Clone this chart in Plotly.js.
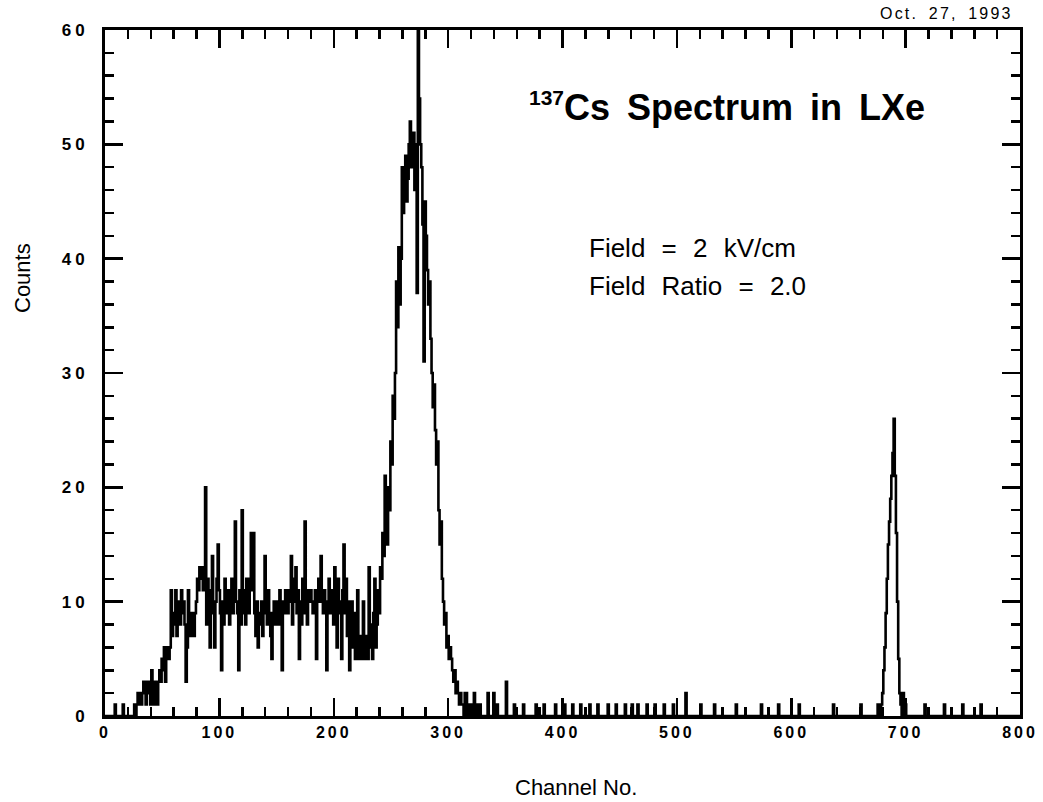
<!DOCTYPE html>
<html>
<head>
<meta charset="utf-8">
<script src="https://cdn.plot.ly/plotly-3.0.1.min.js"></script>
<style>
  html, body { margin: 0; padding: 0; background: #fff; }
  #chart { width: 1043px; height: 802px; }
  .xtick text { letter-spacing: 3px; }
  .ytick text { letter-spacing: 4px; }
  .annotation[data-index="0"] .annotation-text { word-spacing: 7px; }
  .annotation[data-index="1"] .annotation-text,
  .annotation[data-index="2"] .annotation-text { word-spacing: 9px; }
  .annotation[data-index="3"] .annotation-text { letter-spacing: 2.2px; word-spacing: 4px; }
</style>
</head>
<body>
<div id="chart"></div>
<script>
// Counts per channel, channels 0-329 (Compton region and photopeak)
const denseStart = 0;
const denseCounts = [
  0,0,0,0,0,0,0,0,0,1,
  0,0,0,0,0,0,1,0,0,0,
  0,0,0,0,0,0,1,0,1,2,
  1,2,1,2,3,2,1,3,2,3,
  1,4,2,1,3,2,1,3,4,3,
  5,4,6,3,5,6,5,6,11,7,
  9,8,11,7,10,9,8,11,9,10,
  8,3,6,11,8,7,9,8,7,9,
  10,12,11,13,12,13,11,12,20,8,
  12,10,6,11,14,9,6,10,12,15,
  11,9,4,10,8,12,10,9,11,8,
  10,12,9,11,17,10,9,4,11,8,
  18,9,11,8,12,10,9,12,16,11,
  16,9,7,10,6,9,8,10,7,9,
  14,10,8,11,9,7,5,9,10,8,
  10,9,8,11,9,4,10,9,11,10,
  9,11,10,14,8,12,10,13,9,11,
  5,10,8,12,9,17,10,8,11,10,
  11,10,9,10,11,5,10,12,10,14,
  10,9,11,10,4,10,12,9,11,10,
  8,13,10,6,12,9,10,5,11,15,
  9,12,7,10,4,8,10,6,9,5,
  6,11,5,7,6,5,10,6,5,7,
  5,13,6,8,5,9,12,6,8,11,
  9,13,12,16,14,21,17,15,20,18,
  24,22,28,26,30,38,34,41,36,40,
  48,44,46,49,45,47,50,52,48,49,
  51,46,50,37,60,54,50,48,43,31,
  45,42,39,36,38,33,30,27,29,25,
  22,24,18,15,17,12,10,8,9,6,
  7,5,6,5,4,3,4,2,3,2,
  1,2,1,1,0,2,2,0,1,0,
  1,0,0,2,0,1,0,0,1,0
];

// Isolated counts above the photopeak
const sparseChannels = [335,340,343,351,358,366,377,384,394,402,409,416,424,431,440,447,455,461,466,474,481,489,497,508,521,533,552,574,589,607,637,661,676,717,734,750,766];
const sparseCounts   = [2,2,1,3,1,1,1,1,1,1,1,1,1,1,1,1,1,1,1,1,1,1,1,2,1,1,1,1,1,1,1,1,1,1,1,1,1];

// Pulser peak
const pulserChannels = [679,680,681,682,683,684,685,686,687,688,689,690,691,692,693,694,695,696,697,698,699,700];
const pulserCounts   = [1,2,4,6,9,12,15,17,19,21,23,26,21,16,10,5,2,1,0,2,1,1];

const nChannels = 800;
const channels = [];
const counts = [];
for (let c = 0; c <= nChannels; c++) { channels.push(c); counts.push(0); }
denseCounts.forEach((v, i) => { counts[denseStart + i] = v; });
sparseChannels.forEach((c, i) => { counts[c] = sparseCounts[i]; });
pulserChannels.forEach((c, i) => { counts[c] = pulserCounts[i]; });

const xTickVals = [0,100,200,300,400,500,600,700,800];
const yTickVals = [0,10,20,30,40,50,60];

const trace = {
  x: channels,
  y: counts,
  type: 'scatter',
  mode: 'lines',
  line: { color: '#000', width: 2.6, shape: 'hvh', simplify: false },
  hoverinfo: 'x+y'
};

// plot frame in pixels: left 105, right 1020, top 30, bottom 716
const L = 105, R = 1020, T = 30, B = 716;
const px = v => (v - L) / (R - L);
const py = v => (B - v) / (B - T);

const fam = 'Liberation Sans, Arial, sans-serif';
const axisCommon = {
  showline: true, linecolor: '#000', linewidth: 3, mirror: 'ticks',
  ticks: 'inside', ticklen: 18, tickwidth: 2.5, tickcolor: '#000',
  showgrid: false, zeroline: false
};

const layout = {
  width: 1043, height: 802,
  margin: { l: L, r: 1043 - R, t: T, b: 802 - B, pad: 0 },
  paper_bgcolor: '#fff', plot_bgcolor: '#fff',
  showlegend: false,
  xaxis: Object.assign({}, axisCommon, {
    range: [0, 800], tickmode: 'array', tickvals: xTickVals,
    tickfont: { family: fam, size: 16, color: '#000', weight: 'bold' },
    minor: { dtick: 20, ticklen: 9, tickwidth: 2.5, tickcolor: '#000', ticks: 'inside', showgrid: false }
  }),
  yaxis: Object.assign({}, axisCommon, {
    range: [0, 60], tickmode: 'array', tickvals: yTickVals,
    tickfont: { family: fam, size: 17, color: '#000', weight: 'bold' },
    ticklabelstandoff: 10,
    minor: { dtick: 2, ticklen: 9, tickwidth: 2.5, tickcolor: '#000', ticks: 'inside', showgrid: false }
  }),
  annotations: [
    { text: '<sup><span style="font-size:21px">137</span></sup>Cs Spectrum in LXe', xref: 'paper', yref: 'paper',
      x: px(527), y: py(107), xanchor: 'left', yanchor: 'middle', align: 'left', showarrow: false,
      font: { family: fam, size: 36, color: '#000', weight: 'bold' } },
    { text: 'Field = 2 kV/cm', xref: 'paper', yref: 'paper',
      x: px(587), y: py(248), xanchor: 'left', yanchor: 'middle', align: 'left', showarrow: false,
      font: { family: fam, size: 26, color: '#000' } },
    { text: 'Field Ratio = 2.0', xref: 'paper', yref: 'paper',
      x: px(587), y: py(286), xanchor: 'left', yanchor: 'middle', align: 'left', showarrow: false,
      font: { family: fam, size: 26, color: '#000' } },
    { text: 'Oct. 27, 1993', xref: 'paper', yref: 'paper',
      x: px(878), y: py(13), xanchor: 'left', yanchor: 'middle', align: 'left', showarrow: false,
      font: { family: fam, size: 16, color: '#000' } },
    { text: 'Counts', xref: 'paper', yref: 'paper',
      x: px(22), y: py(278), xanchor: 'center', yanchor: 'middle', showarrow: false, textangle: -90,
      font: { family: fam, size: 22, color: '#000' } },
    { text: 'Channel No.', xref: 'paper', yref: 'paper',
      x: px(576), y: py(787), xanchor: 'center', yanchor: 'middle', showarrow: false,
      font: { family: fam, size: 22, color: '#000' } }
  ]
};

Plotly.newPlot('chart', [trace], layout, { displayModeBar: false, staticPlot: true });
</script>
</body>
</html>
